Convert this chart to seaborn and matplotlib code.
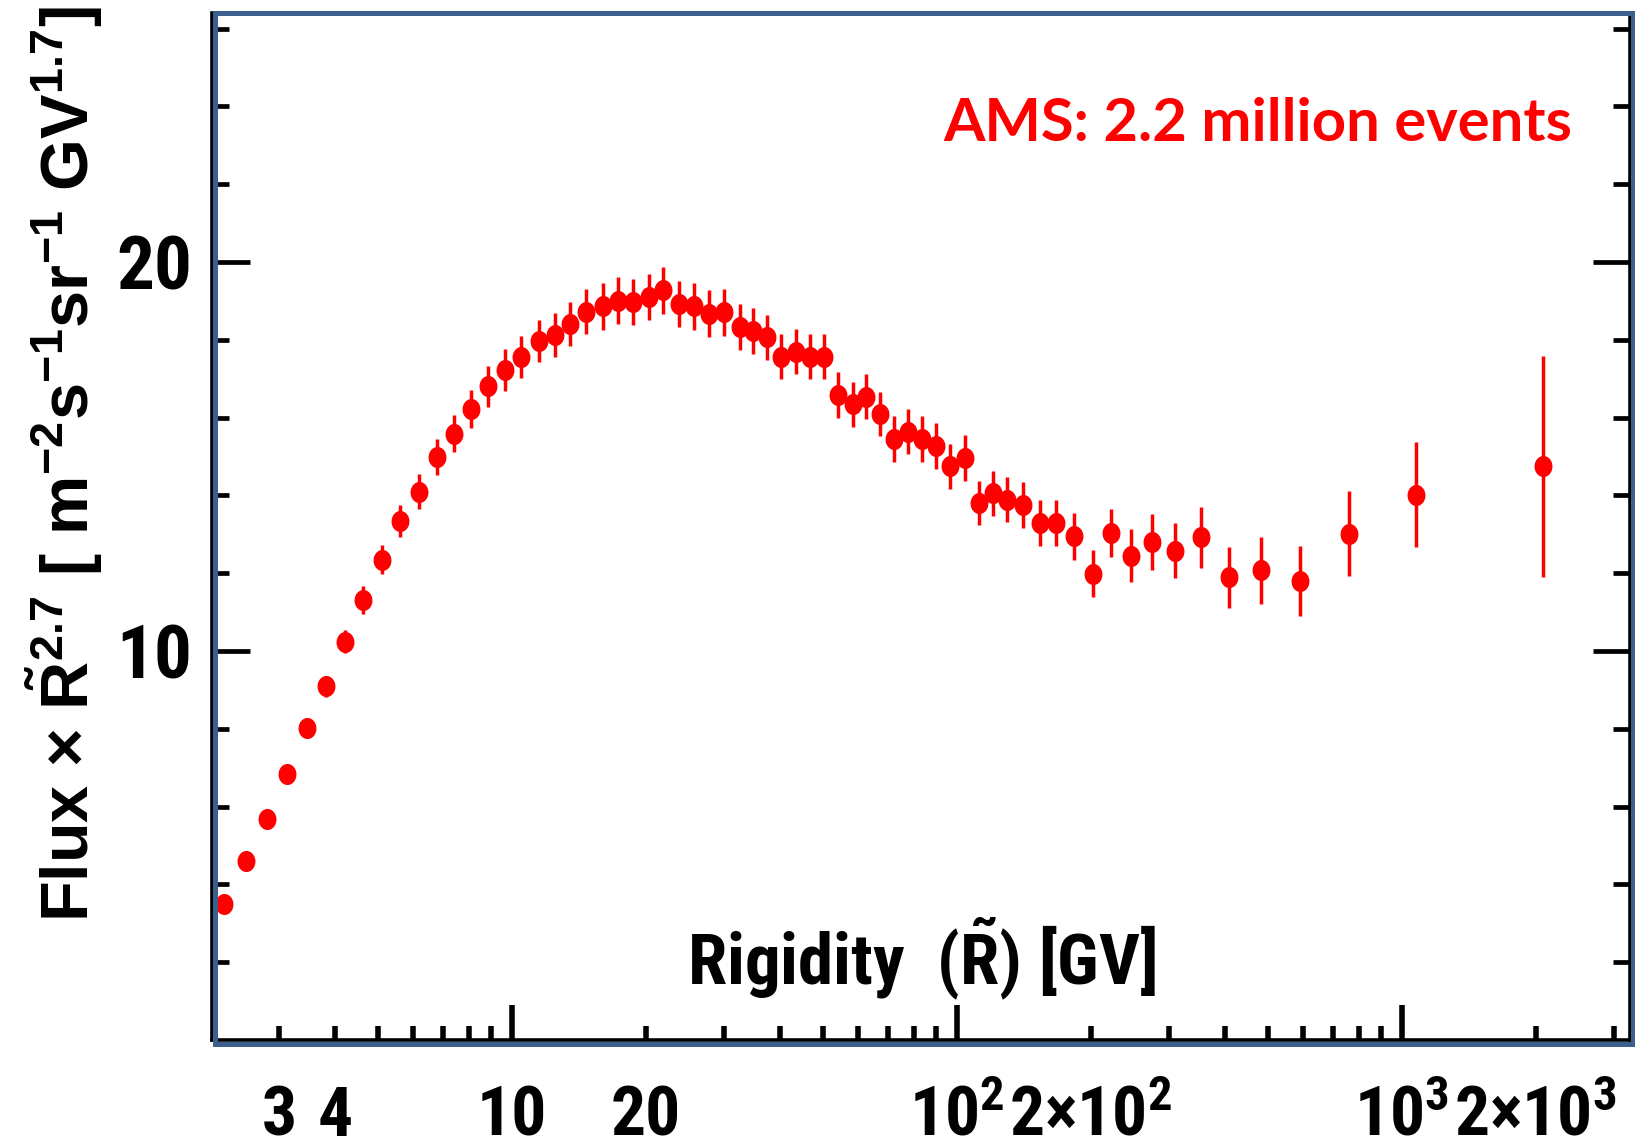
import numpy as np
import pandas as pd
import matplotlib
matplotlib.use("Agg")
import matplotlib.pyplot as plt
import seaborn as sns
from matplotlib import font_manager
from matplotlib.patches import Rectangle

# ---------------- data ----------------
rigidity = [2.26, 2.53, 2.81, 3.12, 3.46, 3.83, 4.21, 4.64, 5.11, 5.62,
            6.18, 6.78, 7.42, 8.09, 8.86, 9.66, 10.5, 11.5, 12.5, 13.5,
            14.7, 16.0, 17.3, 18.7, 20.3, 21.9, 23.8, 25.7, 27.8, 30.0,
            32.5, 34.9, 37.5, 40.3, 43.6, 46.8, 50.3, 54.1, 58.5, 62.6,
            67.2, 72.3, 77.7, 83.6, 89.9, 96.6, 104.4, 112.2, 120.6, 129.8,
            140.9, 153.9, 167.2, 183.5, 202.5, 222.3, 246.3, 274.4, 310.0, 354.3,
            409.6, 481.8, 590.5, 762.6, 1075.0, 2076.0]
flux = [3.49, 4.59, 5.67, 6.84, 8.03, 9.10, 10.24, 11.32, 12.35, 13.34,
        14.10, 14.99, 15.59, 16.21, 16.80, 17.23, 17.55, 17.97, 18.13, 18.40,
        18.72, 18.86, 19.01, 18.97, 19.10, 19.27, 18.92, 18.86, 18.67, 18.71,
        18.32, 18.22, 18.06, 17.57, 17.69, 17.57, 17.57, 16.58, 16.34, 16.54,
        16.10, 15.45, 15.64, 15.45, 15.27, 14.75, 14.96, 13.80, 14.05, 13.89,
        13.76, 13.29, 13.29, 12.95, 11.99, 13.03, 12.45, 12.80, 12.58, 12.92,
        11.89, 12.07, 11.81, 13.02, 14.02, 14.75]
flux_err = [0.05, 0.08, 0.10, 0.15, 0.20, 0.27, 0.30, 0.36, 0.38, 0.42,
            0.44, 0.46, 0.48, 0.49, 0.52, 0.54, 0.54, 0.55, 0.56, 0.57,
            0.58, 0.60, 0.60, 0.60, 0.60, 0.60, 0.60, 0.60, 0.60, 0.60,
            0.59, 0.59, 0.59, 0.58, 0.58, 0.58, 0.58, 0.58, 0.58, 0.58,
            0.57, 0.58, 0.58, 0.58, 0.58, 0.58, 0.58, 0.57, 0.58, 0.58,
            0.59, 0.60, 0.60, 0.61, 0.61, 0.62, 0.68, 0.71, 0.70, 0.79,
            0.79, 0.87, 0.90, 1.09, 1.35, 2.84]

y_major = [10, 20]
y_major_labels = ["10", "20"]
y_minor = [2, 4, 6, 8, 12, 14, 16, 18, 22, 24, 26]

x_major = [10, 100, 1000]
x_major_labels = ["10", r"$10^{2}$", r"$10^{3}$"]
x_minor = [3, 4, 5, 6, 7, 8, 9, 20, 30, 40, 50, 60, 70, 80, 90,
           200, 300, 400, 500, 600, 700, 800, 900, 2000, 3000]
x_minor_labels = ["3", "4", "", "", "", "", "", "20", "", "", "", "", "", "", "",
                  r"$2{\times}10^{2}$", "", "", "", "", "", "", "", r"$2{\times}10^{3}$", ""]

annotation = "AMS: 2.2 million events"
xlabel = r"Rigidity  ($\tilde{R}$) [GV]"
ylabel = (r"Flux $\mathsf{\times}$ $\mathsf{\tilde{R}^{2.7}}$ [ m$^{\mathsf{-2}}$"
          r"s$^{\mathsf{-1}}$sr$^{\mathsf{-1}}$ GV$^{\mathsf{1.7}}$]")

# ---------------- style ----------------
sns.set_style("white")
fonts = font_manager.fontManager.ttflist
names = {f.name for f in fonts}
candidates = ["Liberation Sans Narrow", "Roboto Condensed", "Open Sans Condensed",
              "Arial Narrow", "Nimbus Sans Narrow", "Sofia Sans Condensed"]
COND = next((c for c in candidates if c in names), None)
narrow = COND is not None
if not narrow:
    COND = "Liberation Sans"
WIDE = "Liberation Sans" if "Liberation Sans" in names else "DejaVu Sans"

plt.rcParams["font.family"] = [COND, "DejaVu Sans"]
plt.rcParams["font.weight"] = "bold"
plt.rcParams["text.color"] = "black"
plt.rcParams["axes.labelcolor"] = "black"
plt.rcParams["mathtext.fontset"] = "custom"
plt.rcParams["mathtext.rm"] = f"{COND}:bold"
plt.rcParams["mathtext.it"] = f"{COND}:bold"
plt.rcParams["mathtext.bf"] = f"{COND}:bold"
plt.rcParams["mathtext.sf"] = f"{WIDE}:bold"
plt.rcParams["mathtext.default"] = "rm"
plt.rcParams["mathtext.fallback"] = "stixsans"

RED = "#FF0000"
BLUE = "#3C5F8D"

fs_ytick = 54 if narrow else 48
fs_xtick = 50 if narrow else 43
fs_xlab = 51 if narrow else 44
fs_ylab = 48

fig = plt.figure(figsize=(16.35, 11.42), dpi=100)
ax = fig.add_axes([0.1297, 0.0893, 0.8673, 0.8993])

df = pd.DataFrame({"rigidity": rigidity, "flux": flux, "err": flux_err})

ax.errorbar(df["rigidity"], df["flux"], yerr=df["err"], fmt="none",
            ecolor=RED, elinewidth=2.5, capsize=0, zorder=2)

theta = np.linspace(0, 2 * np.pi, 48)
ellipse = list(zip(0.85 * np.cos(theta), np.sin(theta)))
sns.scatterplot(data=df, x="rigidity", y="flux", ax=ax, color=RED,
                marker=ellipse, s=230, linewidth=0, zorder=3, legend=False)

ax.set_xscale("log")
ax.set_xlim(2.12, 3260)
ax.set_ylim(0, 26.4)

ax.set_yticks(y_major, labels=y_major_labels)
ax.set_yticks(y_minor, minor=True)
ax.set_xticks(x_major, labels=x_major_labels)
ax.set_xticks(x_minor, labels=x_minor_labels, minor=True)

ax.tick_params(axis="y", which="both", direction="in", left=True, right=True,
               color="black", labelcolor="black")
ax.tick_params(axis="y", which="major", length=27, width=3.4, pad=14, labelsize=fs_ytick)
ax.tick_params(axis="y", which="minor", length=12.5, width=3.4)
ax.tick_params(axis="x", which="both", direction="in", bottom=True, top=False,
               color="black", labelcolor="black", labelsize=fs_xtick, pad=69)
ax.tick_params(axis="x", which="major", length=25, width=4)
ax.tick_params(axis="x", which="minor", length=10, width=4)

for sp in ["left", "right", "bottom"]:
    ax.spines[sp].set_color("black")
    ax.spines[sp].set_linewidth(2.6)
ax.spines["top"].set_visible(False)

ax.add_patch(Rectangle((0.0021, -0.0039), 1.0, 1.0039, transform=ax.transAxes,
                       fill=False, edgecolor=BLUE, linewidth=3.6, clip_on=False, zorder=5))

ax.set_xlabel(xlabel, fontsize=fs_xlab, fontweight="bold", va="baseline", color="black")
ax.xaxis.set_label_coords(0.5, 0.0536)
ax.set_ylabel(ylabel, fontsize=fs_ylab, fontweight="bold", ha="center", va="center",
              color="black", family=[WIDE, "DejaVu Sans"])
ax.yaxis.set_label_coords(-0.104, 0.561)

ax.text(0.959, 0.875, annotation, transform=ax.transAxes, ha="right", va="baseline",
        color=RED, fontsize=43, fontweight="bold", family=["Lato", "DejaVu Sans"])

for lbl in ax.get_xticklabels(which="both"):
    lbl.set_verticalalignment("baseline")

fig.savefig("out.png", dpi=100, facecolor="white")
